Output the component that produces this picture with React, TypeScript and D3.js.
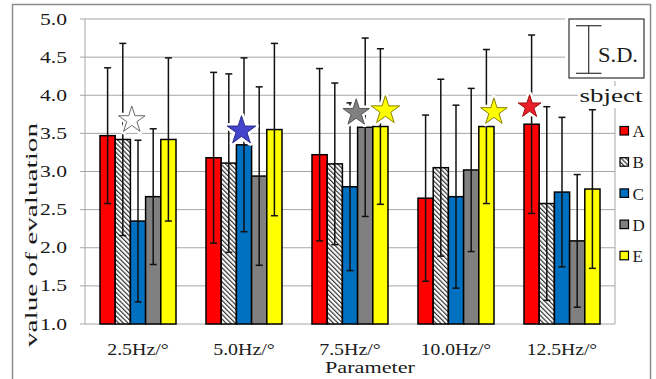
import * as d3 from "d3";

const params = ["2.5Hz/°", "5.0Hz/°", "7.5Hz/°", "10.0Hz/°", "12.5Hz/°"];
const subjects = ["A", "B", "C", "D", "E"];

// mean value of evaluation, per subject, one entry per parameter
const meanA = [3.47, 3.18, 3.22, 2.65, 3.62];
const meanB = [3.42, 3.11, 3.1, 3.05, 2.58];
const meanC = [2.35, 3.35, 2.8, 2.67, 2.73];
const meanD = [2.67, 2.94, 3.58, 3.02, 2.09];
const meanE = [3.42, 3.55, 3.59, 3.59, 2.77];

// standard deviations
const sdA = [0.89, 1.12, 1.13, 1.09, 1.17];
const sdB = [1.26, 1.17, 1.06, 1.16, 1.27];
const sdC = [1.06, 1.14, 1.1, 1.2, 0.98];
const sdD = [0.89, 1.17, 1.17, 1.07, 0.87];
const sdE = [1.07, 1.13, 1.02, 1.01, 1.04];

const yTicks = [1.0, 1.5, 2.0, 2.5, 3.0, 3.5, 4.0, 4.5, 5.0];

// stars: best subject marks
const starParam = ["2.5Hz/°", "5.0Hz/°", "7.5Hz/°", "7.5Hz/°", "10.0Hz/°", "12.5Hz/°"];
const starSubject = ["B", "C", "D", "E", "E", "A"];
const starValue = [3.675, 3.535, 3.77, 3.8, 3.78, 3.85];

const means = [meanA, meanB, meanC, meanD, meanE];
const sds = [sdA, sdB, sdC, sdD, sdE];

const colors: Record<string, string> = {
  A: "#ff0000",
  B: "url(#hatch)",
  C: "#0070c0",
  D: "#808080",
  E: "#ffff00",
};
const starColors: Record<string, [string, string]> = {
  A: ["#e8202a", "#a01010"],
  B: ["#ffffff", "#6a6a6a"],
  C: ["#4444cc", "#2a2a8a"],
  D: ["#808080", "#555555"],
  E: ["#ffff00", "#8a8000"],
};
// hand placed offsets of the star shapes (px) and their radius
const starDx = [9, -2.5, -9, 5, 7.5, -2];
const starR = [14, 15, 14, 15, 14, 12];

const font = "'Liberation Serif', 'Times New Roman', serif";

export default function App() {
  const W = 656, H = 379;
  const left = 85, right = 615, top = 19, bottom = 324;

  const x0 = d3.scaleBand<string>().domain(params).range([left, right])
    .paddingInner(0.283).paddingOuter(0.1415);
  const x1 = d3.scaleBand<string>().domain(subjects).range([0, x0.bandwidth()]);
  const y = d3.scaleLinear().domain([1, 5]).range([bottom, top]);

  const bars = [];
  const errs = [];
  subjects.forEach((s, si) => {
    params.forEach((p, pi) => {
      const v = means[si][pi];
      const sd = sds[si][pi];
      const bx = x0(p)! + x1(s)!;
      bars.push(
        <rect key={s + p} x={bx} y={y(v)} width={x1.bandwidth()} height={y(1) - y(v)}
          fill={colors[s]} stroke="#000" strokeWidth={1.5} />
      );
      const cx = bx + x1.bandwidth() / 2;
      errs.push(
        <g key={"e" + s + p} stroke="#111" strokeWidth={1.5}>
          <line x1={cx} x2={cx} y1={y(v + sd)} y2={y(v - sd)} />
          <line x1={cx - 3.5} x2={cx + 3.5} y1={y(v + sd)} y2={y(v + sd)} />
          <line x1={cx - 3.5} x2={cx + 3.5} y1={y(v - sd)} y2={y(v - sd)} />
        </g>
      );
    });
  });

  const stars = starParam.map((p, i) => {
    const s = starSubject[i];
    const cx = x0(p)! + x1(s)! + x1.bandwidth() / 2 + starDx[i];
    const cy = y(starValue[i]);
    const r = starR[i];
    const path = d3.symbol(d3.symbolStar, (r * r) / 0.8908130915292852)()!;
    const [f, st] = starColors[s];
    return (
      <g key={"s" + i} transform={`translate(${cx},${cy})`}>
        <path d={path} fill="#fff" stroke="#fff" strokeWidth={6} strokeLinejoin="round" />
        <path d={path} fill={f} stroke={st} strokeWidth={1} />
      </g>
    );
  });

  return (
    <svg width={W} height={H} style={{ position: "absolute", left: 0, top: 0, display: "block" }}
      fontFamily={font}>
      <defs>
        <pattern id="hatch" patternUnits="userSpaceOnUse" width={3.3} height={3.3}
          patternTransform="rotate(-45)">
          <rect width={3.3} height={3.3} fill="#fff" />
          <line x1={0.6} y1={0} x2={0.6} y2={3.3} stroke="#333" strokeWidth={1.2} />
        </pattern>
      </defs>
      <rect x={0} y={0} width={W} height={H} fill="#fff" />
      <rect x={12.5} y={4.5} width={638} height={392} fill="none" stroke="#8c8c8c" strokeWidth={1.5} />

      {/* grid */}
      {yTicks.map((t) => (
        <g key={"g" + t}>
          <line x1={left - 5} x2={right} y1={y(t)} y2={y(t)} stroke="#a6a6a6" strokeWidth={1} />
          <text x={67} y={y(t)} dy="0.35em" textAnchor="end" fontSize={16} fill="#1a1a1a"
            textLength={27} lengthAdjust="spacingAndGlyphs">
            {t.toFixed(1)}
          </text>
        </g>
      ))}
      <line x1={left} x2={left} y1={top} y2={bottom} stroke="#a6a6a6" />
      <line x1={right} x2={right} y1={top} y2={bottom} stroke="#a6a6a6" />

      {bars}
      {errs}
      {stars}

      {params.map((p) => (
        <text key={"x" + p} x={x0(p)! + x0.bandwidth() / 2} y={355} textAnchor="middle"
          fontSize={16} fill="#1a1a1a" textLength={p.length * 8.8}
          lengthAdjust="spacingAndGlyphs">{p}</text>
      ))}
      <text x={370} y={373} textAnchor="middle" fontSize={17} fill="#1a1a1a"
        textLength={90} lengthAdjust="spacingAndGlyphs">Parameter</text>
      <text transform={`translate(37,235) rotate(-90)`} textAnchor="middle" fontSize={17} fill="#1a1a1a"
        textLength={224} lengthAdjust="spacingAndGlyphs">value of evaluation</text>

      {/* S.D. key */}
      <rect x={565} y={15} width={83} height={66} fill="#fff" />
      <rect x={569} y={19} width={75} height={59} fill="#fff" stroke="#333" strokeWidth={1.2} />
      <g stroke="#333" strokeWidth={1.2}>
        <line x1={588.7} x2={588.7} y1={25.7} y2={73.3} />
        <line x1={576} x2={601.5} y1={25.7} y2={25.7} />
        <line x1={576} x2={601.5} y1={73.3} y2={73.3} />
      </g>
      <text x={598} y={61.5} fontSize={20} fill="#1a1a1a" textLength={40} lengthAdjust="spacingAndGlyphs">S.D.</text>

      <rect x={578} y={86} width={68} height={22} fill="#fff" />
      <text x={611} y={101.5} textAnchor="middle" fontSize={18} fill="#1a1a1a"
        textLength={63} lengthAdjust="spacingAndGlyphs">sbject</text>

      {subjects.map((s, i) => {
        const ly = 131 + i * 31.2;
        return (
          <g key={"l" + s}>
            <rect x={620} y={ly - 4.5} width={8.5} height={8.5} fill={colors[s]} stroke="#000" strokeWidth={1.2} />
            <text x={632.5} y={ly} dy="0.36em" fontSize={17} fill="#1a1a1a">{s}</text>
          </g>
        );
      })}
    </svg>
  );
}
